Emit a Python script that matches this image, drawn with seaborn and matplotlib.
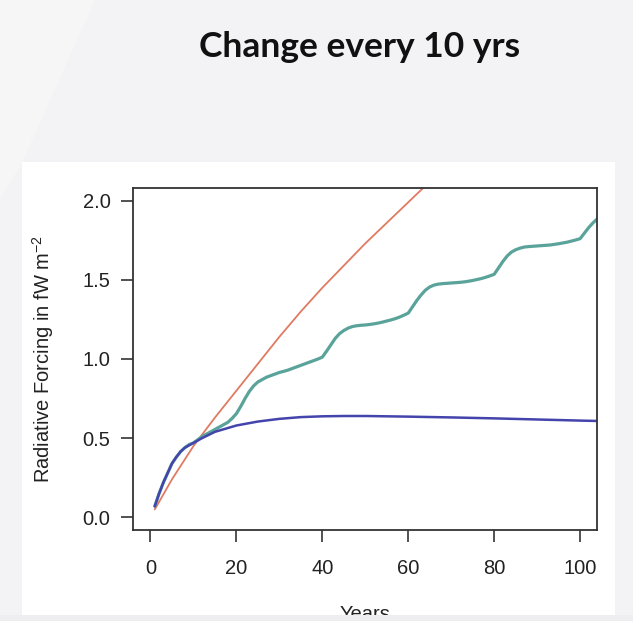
import matplotlib
matplotlib.use("Agg")
import matplotlib.pyplot as plt
import seaborn as sns
import pandas as pd
from matplotlib.patches import Rectangle, Polygon

# ---------------- data ----------------
red_years = [1, 5, 10, 15, 20, 25, 30, 35, 40, 45, 50, 55, 60, 65, 70]
red_vals = [0.05, 0.24, 0.45, 0.63, 0.80, 0.97, 1.14, 1.30, 1.45, 1.59, 1.73, 1.86, 1.99, 2.12, 2.25]

blue_years = [1, 2, 3, 4, 5, 6, 7, 8, 10, 12, 15, 20, 25, 30, 35, 40, 45, 50, 60, 70, 80, 90, 100, 110]
blue_vals = [0.07, 0.15, 0.22, 0.28, 0.34, 0.38, 0.415, 0.44, 0.47, 0.50, 0.54, 0.58, 0.605, 0.622,
             0.633, 0.638, 0.64, 0.64, 0.636, 0.631, 0.625, 0.618, 0.611, 0.605]

teal_years = list(range(1, 106))
teal_vals = [0.07, 0.15, 0.22, 0.28, 0.34, 0.38, 0.415, 0.44, 0.46, 0.47,
             0.49, 0.51, 0.525, 0.54, 0.555, 0.57, 0.585, 0.60, 0.625, 0.655,
             0.70, 0.75, 0.795, 0.83, 0.855, 0.87, 0.885, 0.895, 0.905, 0.915,
             0.922, 0.93, 0.94, 0.95, 0.96, 0.97, 0.98, 0.99, 1.00, 1.012,
             1.05, 1.09, 1.13, 1.16, 1.18, 1.195, 1.205, 1.21, 1.213, 1.215,
             1.218, 1.222, 1.227, 1.233, 1.24, 1.247, 1.255, 1.265, 1.277, 1.29,
             1.33, 1.37, 1.405, 1.435, 1.455, 1.467, 1.473, 1.476, 1.478, 1.48,
             1.482, 1.484, 1.487, 1.491, 1.496, 1.502, 1.508, 1.516, 1.525, 1.535,
             1.575, 1.615, 1.65, 1.675, 1.69, 1.70, 1.707, 1.71, 1.712, 1.714,
             1.716, 1.718, 1.72, 1.724, 1.728, 1.733, 1.738, 1.745, 1.752, 1.76,
             1.795, 1.83, 1.86, 1.885, 1.91]

x_ticks = [0, 20, 40, 60, 80, 100]
y_ticks = [0.0, 0.5, 1.0, 1.5, 2.0]
y_tick_labels = ["0.0", "0.5", "1.0", "1.5", "2.0"]

title_text = "Change every 10 yrs"
x_label = "Years"
y_label = r"Radiative Forcing in fW m$^{-2}$"

# ---------------- figure ----------------
sns.set_theme(style="white")
plt.rcParams["font.family"] = ["Liberation Sans", "DejaVu Sans"]
plt.rcParams["mathtext.fontset"] = "custom"
plt.rcParams["mathtext.rm"] = "Liberation Sans"
plt.rcParams["mathtext.it"] = "Liberation Sans"

W, H = 633, 621
fig = plt.figure(figsize=(W / 100, H / 100), dpi=100, facecolor="#f3f3f5")

def fx(px):
    return px / W

def fy(py):
    return 1 - py / H

# slide background pieces
fig.patches.append(Polygon([[fx(0), fy(200)], [fx(0), fy(0)], [fx(95), fy(0)], [fx(22), fy(163)]],
                           closed=True, transform=fig.transFigure, facecolor="#f6f6f7",
                           edgecolor="none", zorder=0))
fig.patches.append(Rectangle((fx(22), fy(615)), fx(615) - fx(22), fy(162) - fy(615),
                             transform=fig.transFigure, facecolor="white", edgecolor="none", zorder=0))

ax = fig.add_axes([fx(133.3), fy(530), fx(597.3) - fx(133.3), fy(188) - fy(530)])
ax.set_zorder(2)
ax.set_facecolor("white")

df_red = pd.DataFrame({"Years": red_years, "RF": red_vals})
df_blue = pd.DataFrame({"Years": blue_years, "RF": blue_vals})
df_teal = pd.DataFrame({"Years": teal_years, "RF": teal_vals})

sns.lineplot(data=df_red, x="Years", y="RF", ax=ax, color="#e07a62", lw=1.3)
sns.lineplot(data=df_teal, x="Years", y="RF", ax=ax, color="#5aa39a", lw=2.3)
sns.lineplot(data=df_blue, x="Years", y="RF", ax=ax, color="#4444ad", lw=1.8)

ax.set_xlim(-4, 104)
ax.set_ylim(-0.08, 2.08)
ax.set_xticks(x_ticks)
ax.set_yticks(y_ticks)
ax.set_yticklabels(y_tick_labels)
ax.set_xlabel("")
ax.set_ylabel("")

for s in ax.spines.values():
    s.set_color("#333333")
    s.set_linewidth(1.3)
    s.set_visible(True)

ax.tick_params(axis="both", which="both", direction="out", length=8.5, width=1.2,
               color="#333333", labelsize=14.5, labelcolor="#222222")
ax.tick_params(axis="x", pad=12.5, bottom=True)
ax.tick_params(axis="y", pad=8, left=True)

fig.text(fx(43), fy(359), y_label, rotation=90, ha="center", va="center",
         fontsize=14.5, color="#222222", zorder=3)
fig.text(fx(365), fy(605), x_label, ha="center", va="top", fontsize=14.5,
         color="#222222", zorder=3)
# bottom strip of the slide covering the x label partially
fig.patches.append(Rectangle((0, 0), 1, fy(615), transform=fig.transFigure,
                             facecolor="#eeeef0", edgecolor="none", zorder=5))

fig.text(fx(360), fy(47), title_text, ha="center", va="center", fontsize=25.5,
         fontweight="bold", family=["Lato", "DejaVu Sans"], color="#111111", zorder=3)

fig.savefig("out.png", dpi=100, facecolor=fig.get_facecolor())
